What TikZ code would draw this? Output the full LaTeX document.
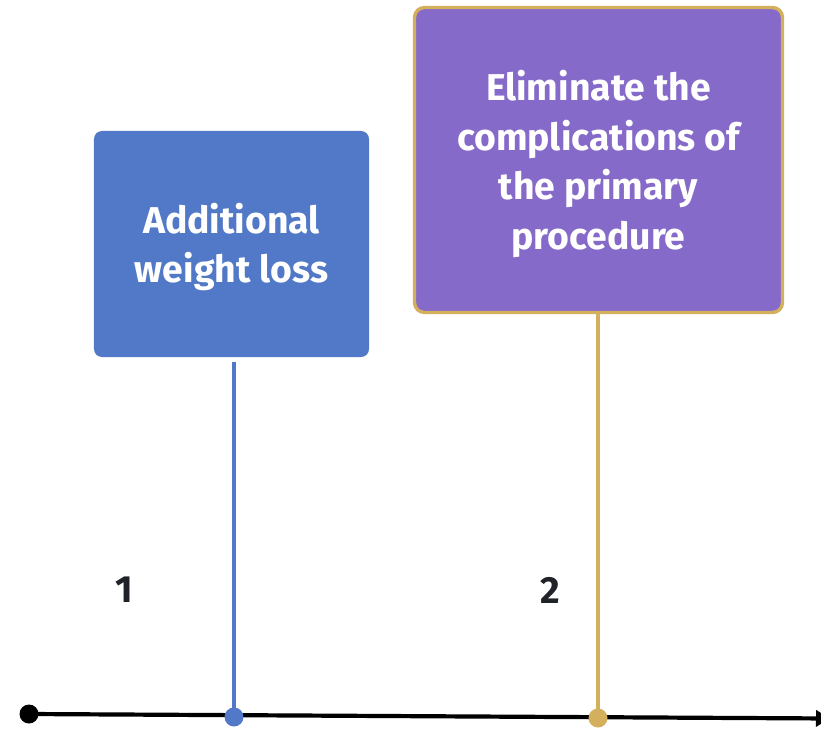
\documentclass[tikz,border=0pt]{standalone}
\usepackage{fontspec}
\setmainfont{Fira Sans}
\usetikzlibrary{arrows.meta}
\definecolor{boxblue}{HTML}{5279C7}
\definecolor{boxpurple}{HTML}{866AC9}
\definecolor{gold}{HTML}{D4B05E}
\definecolor{numdark}{HTML}{1F2228}
% centred lines, set a little below the middle of the card
\newcommand\cardlines[2]{\raisebox{0pt}[\dimexpr\height+#1\relax][\depth]{%
  \begin{tabular}{@{}c@{}}#2\end{tabular}}}
\tikzset{
  card/.style={rounded corners=8bp, text=white,
    font=\bfseries\fontsize{37.5}{50}\selectfont, inner sep=0pt},
  dot/.style={circle, inner sep=0pt, minimum size=19bp},
  stem/.style={line width=3.2bp},
  num/.style={text=numdark, font=\bfseries\fontsize{38}{40}\selectfont},
}
\begin{document}
\begin{tikzpicture}[x=1bp, y=-1bp]
  \useasboundingbox (0,0) rectangle (821,732);
  % event cards
  \node[card, fill=boxblue, minimum width=275bp, minimum height=226bp]
    (c1) at (231.5,244) {\cardlines{8bp}{Additional\\weight loss}};
  \node[card, fill=boxpurple, draw=gold, line width=3.4bp, rounded corners=10bp,
    minimum width=368bp, minimum height=305bp]
    (c2) at (598.5,160) {\cardlines{10bp}{Eliminate the\\complications of\\the primary\\procedure}};
  % axis
  \node[dot, fill=black] (start) at (29,714) {};
  \coordinate (end) at (830,718.5);
  \draw[line width=4.2bp, -{Triangle[length=14bp, width=16bp]}] (start.center) -- (end);
  % event markers on the axis
  \node[dot, fill=boxblue] (d1) at (234,717) {};
  \node[dot, fill=gold] (d2) at (598,718) {};
  \draw[stem, boxblue, shorten <=5bp] (c1.south -| d1) -- (d1.center);
  \draw[stem, gold] (c2.south -| d2) -- (d2.center);
  % step numbers
  \node[num] (n1) at (124,590) {1};
  \node[num] (n2) at (550,590) {2};
\end{tikzpicture}
\end{document}
